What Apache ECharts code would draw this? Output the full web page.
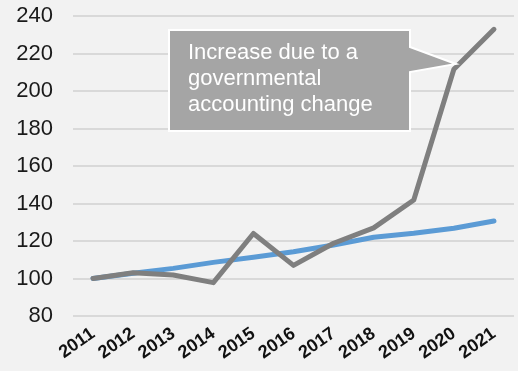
<!DOCTYPE html>
<html>
<head>
<meta charset="utf-8">
<script src="https://cdn.jsdelivr.net/npm/echarts@6/dist/echarts.min.js"></script>
<style>
    html, body { margin: 0; padding: 0; background: #f2f2f2; }
    #chart { width: 518px; height: 371px; }
</style>
</head>
<body>
<div id="chart"></div>
<script>
const years = ['2011', '2012', '2013', '2014', '2015', '2016', '2017', '2018', '2019', '2020', '2021']
const trendValues = [100, 102.8, 105.4, 108.6, 111.3, 114.3, 117.9, 122, 124.1, 126.8, 130.7]
const actualValues = [100, 103.1, 101.9, 97.8, 124, 107, 118.8, 127, 141.9, 211.6, 232.9]
const yTicks = { min: 80, max: 240, interval: 20 }
const noteText = 'Increase due to a\ngovernmental\naccounting change'

var myChart = echarts.init(document.getElementById('chart'))
let option = {
    backgroundColor: '#f2f2f2',
    animation: false,
    grid: {
        left: 73,
        right: 4,
        top: 16,
        bottom: 55
    },
    xAxis: {
        type: 'category',
        data: years,
        boundaryGap: true,
        axisLine: { show: false },
        axisTick: { show: false },
        axisLabel: {
            rotate: 35,
            margin: 16,
            interval: 0,
            fontFamily: 'Liberation Sans',
            fontWeight: 'bold',
            fontSize: 18,
            color: '#111'
        }
    },
    yAxis: {
        type: 'value',
        min: yTicks.min,
        max: yTicks.max,
        interval: yTicks.interval,
        axisLine: { show: false },
        axisTick: { show: false },
        axisLabel: {
            margin: 20,
            fontFamily: 'Liberation Sans',
            fontSize: 22,
            color: '#1a1a1a'
        },
        splitLine: {
            lineStyle: { color: '#d9d9d9', width: 2 }
        }
    },
    series: [
        {
            name: 'trend',
            type: 'line',
            data: trendValues,
            symbol: 'none',
            lineStyle: { color: '#5b9bd5', width: 5, cap: 'round', join: 'round' }
        },
        {
            name: 'actual',
            type: 'line',
            data: actualValues,
            symbol: 'none',
            lineStyle: { color: '#7f7f7f', width: 5, cap: 'round', join: 'round' }
        }
    ],
    // callout box pointing at the 2020 jump
    graphic: [
        {
            type: 'polygon',
            shape: {
                points: [[169, 30], [410, 30], [410, 47], [456, 64], [410, 72], [410, 131], [169, 131]]
            },
            style: { fill: '#a5a5a5', stroke: '#ffffff', lineWidth: 2 },
            z: 10
        },
        {
            type: 'text',
            left: 188,
            top: 40,
            style: {
                text: noteText,
                fill: '#ffffff',
                fontFamily: 'Liberation Sans',
                fontSize: 22,
                lineHeight: 26
            },
            z: 11
        }
    ]
}
myChart.setOption(option)
</script>
</body>
</html>
